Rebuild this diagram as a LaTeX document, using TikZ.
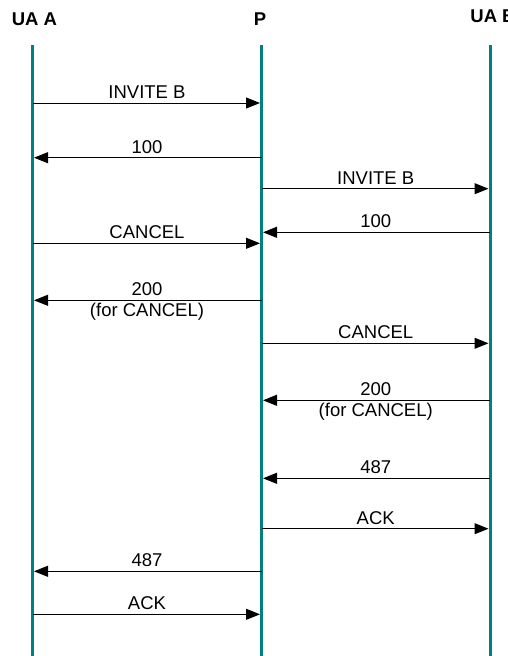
\documentclass[tikz,border=0pt]{standalone}
\usepackage{fontspec}
\setmainfont{Liberation Sans}
\usetikzlibrary{arrows.meta}
\definecolor{lifeteal}{RGB}{0,128,128}
\begin{document}
\begin{tikzpicture}[x=1pt,y=-1pt,
    life/.style={draw=lifeteal,line width=3pt},
    msg/.style={-{Triangle[length=14pt,width=11pt]},line width=1pt,shorten >=1.5pt},
    lbl/.style={font=\fontsize{18.5}{20}\selectfont,inner sep=4pt},
    sub/.style={font=\fontsize{18.5}{20}\selectfont,inner sep=2pt},
    head/.style={font=\fontsize{18.5}{20}\selectfont\bfseries}]
    \useasboundingbox (0,0) rectangle (508,656);

    \node[head] (hA) at (34.5,19) {UA A};
    \node[head] (hP) at (260,19) {P};
    \node[head] (hB) at (493,16) {UA B};

    \coordinate (A) at (32.5,45);  \coordinate (Aend) at (32.5,660);
    \coordinate (P) at (261.5,45); \coordinate (Pend) at (261.5,660);
    \coordinate (B) at (490,45);   \coordinate (Bend) at (490,660);
    \draw[life](A)--(Aend);
    \draw[life](P)--(Pend);
    \draw[life](B)--(Bend);

    \draw[msg](A|-0,103)--(P|-0,103)node[midway,above,lbl]{INVITE B};
    \draw[msg](P|-0,157.7)--(A|-0,157.7)node[midway,above,lbl]{100};
    \draw[msg](P|-0,188.7)--(B|-0,188.7)node[midway,above,lbl]{INVITE B};
    \draw[msg](B|-0,232.3)--(P|-0,232.3)node[midway,above,lbl]{100};
    \draw[msg](A|-0,243.3)--(P|-0,243.3)node[midway,above,lbl]{CANCEL};
    \draw[msg](P|-0,300.3)--(A|-0,300.3)node[midway,above,lbl]{200}node[midway,below,sub]{(for CANCEL)};
    \draw[msg](P|-0,343.3)--(B|-0,343.3)node[midway,above,lbl]{CANCEL};
    \draw[msg](B|-0,400.3)--(P|-0,400.3)node[midway,above,lbl]{200}node[midway,below,sub]{(for CANCEL)};
    \draw[msg](B|-0,478.3)--(P|-0,478.3)node[midway,above,lbl]{487};
    \draw[msg](P|-0,528.7)--(B|-0,528.7)node[midway,above,lbl]{ACK};
    \draw[msg](P|-0,571.3)--(A|-0,571.3)node[midway,above,lbl]{487};
    \draw[msg](A|-0,614.3)--(P|-0,614.3)node[midway,above,lbl]{ACK};
\end{tikzpicture}
\end{document}
